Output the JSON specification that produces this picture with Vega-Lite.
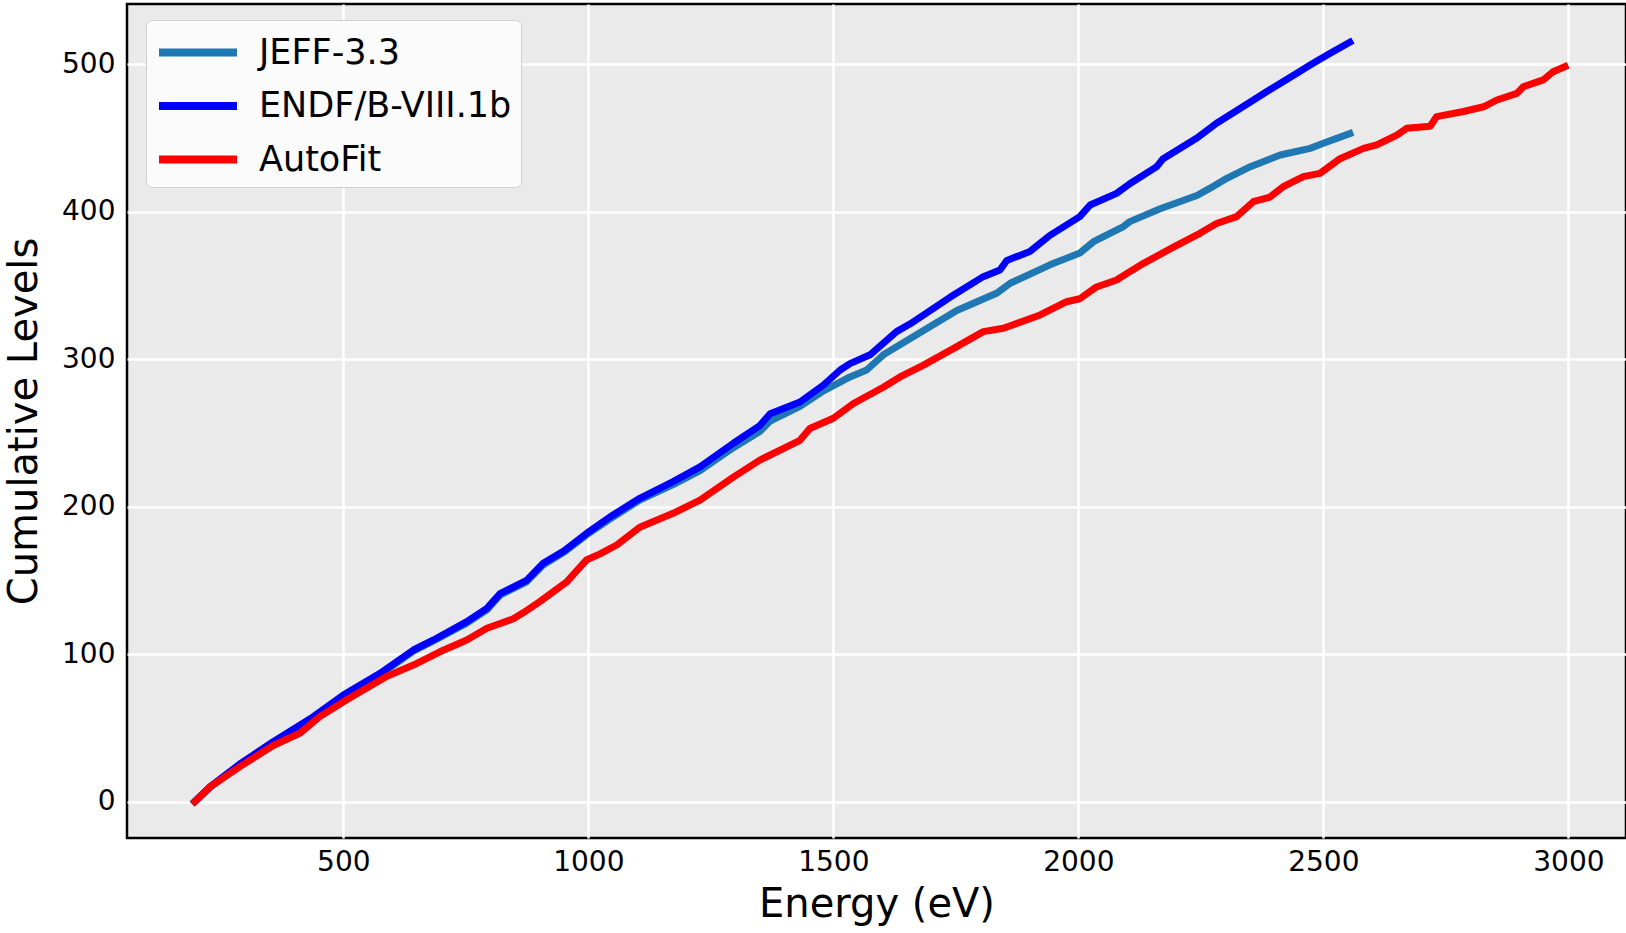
{
  "$schema": "https://vega.github.io/schema/vega-lite/v6.json",
  "width": 1499,
  "height": 834,
  "autosize": {"type": "none"},
  "padding": {"left": 127, "top": 4, "right": 0, "bottom": 95},
  "background": "white",
  "config": {
    "view": {"fill": "#eaeaea", "stroke": "#000000", "strokeWidth": 2.5},
    "font": "DejaVu Sans",
    "axis": {
      "labelFont": "DejaVu Sans",
      "titleFont": "DejaVu Sans",
      "labelColor": "#000000",
      "titleColor": "#000000",
      "labelFontSize": 28,
      "titleFontSize": 40,
      "titleFontWeight": "normal",
      "ticks": false,
      "tickSize": 0,
      "domain": false,
      "grid": true,
      "gridColor": "#ffffff",
      "gridWidth": 2.5
    },
    "legend": {
      "labelFont": "DejaVu Sans",
      "labelFontSize": 35,
      "labelColor": "#000000",
      "labelLimit": 600
    }
  },
  "data": {
    "values": [
      {"series": "JEFF-3.3", "E": 197, "N": 0},
      {"series": "JEFF-3.3", "E": 228, "N": 9.5},
      {"series": "JEFF-3.3", "E": 289, "N": 25},
      {"series": "JEFF-3.3", "E": 357, "N": 40},
      {"series": "JEFF-3.3", "E": 439, "N": 57},
      {"series": "JEFF-3.3", "E": 500, "N": 71.5},
      {"series": "JEFF-3.3", "E": 575, "N": 86},
      {"series": "JEFF-3.3", "E": 643, "N": 102},
      {"series": "JEFF-3.3", "E": 684, "N": 109},
      {"series": "JEFF-3.3", "E": 752, "N": 121},
      {"series": "JEFF-3.3", "E": 793, "N": 130},
      {"series": "JEFF-3.3", "E": 820, "N": 140},
      {"series": "JEFF-3.3", "E": 874, "N": 149},
      {"series": "JEFF-3.3", "E": 908, "N": 160.5},
      {"series": "JEFF-3.3", "E": 950, "N": 169},
      {"series": "JEFF-3.3", "E": 997, "N": 181},
      {"series": "JEFF-3.3", "E": 1044, "N": 191.5},
      {"series": "JEFF-3.3", "E": 1105, "N": 204.5},
      {"series": "JEFF-3.3", "E": 1173, "N": 215},
      {"series": "JEFF-3.3", "E": 1228, "N": 224.5},
      {"series": "JEFF-3.3", "E": 1296, "N": 240},
      {"series": "JEFF-3.3", "E": 1350, "N": 251},
      {"series": "JEFF-3.3", "E": 1371, "N": 258},
      {"series": "JEFF-3.3", "E": 1432, "N": 268},
      {"series": "JEFF-3.3", "E": 1480, "N": 278.5},
      {"series": "JEFF-3.3", "E": 1534, "N": 288},
      {"series": "JEFF-3.3", "E": 1568, "N": 292.7},
      {"series": "JEFF-3.3", "E": 1602, "N": 303},
      {"series": "JEFF-3.3", "E": 1657, "N": 314},
      {"series": "JEFF-3.3", "E": 1752, "N": 333},
      {"series": "JEFF-3.3", "E": 1833, "N": 344.7},
      {"series": "JEFF-3.3", "E": 1861, "N": 351.5},
      {"series": "JEFF-3.3", "E": 1942, "N": 364},
      {"series": "JEFF-3.3", "E": 2003, "N": 372},
      {"series": "JEFF-3.3", "E": 2031, "N": 379.7},
      {"series": "JEFF-3.3", "E": 2092, "N": 390},
      {"series": "JEFF-3.3", "E": 2105, "N": 393.3},
      {"series": "JEFF-3.3", "E": 2167, "N": 402},
      {"series": "JEFF-3.3", "E": 2242, "N": 411},
      {"series": "JEFF-3.3", "E": 2269, "N": 416},
      {"series": "JEFF-3.3", "E": 2303, "N": 422.7},
      {"series": "JEFF-3.3", "E": 2351, "N": 430.6},
      {"series": "JEFF-3.3", "E": 2412, "N": 438.5},
      {"series": "JEFF-3.3", "E": 2473, "N": 443},
      {"series": "JEFF-3.3", "E": 2500, "N": 446.4},
      {"series": "JEFF-3.3", "E": 2554, "N": 453},
      {"series": "ENDF/B-VIII.1b", "E": 197, "N": 0},
      {"series": "ENDF/B-VIII.1b", "E": 228, "N": 10},
      {"series": "ENDF/B-VIII.1b", "E": 289, "N": 25.5},
      {"series": "ENDF/B-VIII.1b", "E": 357, "N": 40.6},
      {"series": "ENDF/B-VIII.1b", "E": 439, "N": 57.6},
      {"series": "ENDF/B-VIII.1b", "E": 500, "N": 72.3},
      {"series": "ENDF/B-VIII.1b", "E": 575, "N": 87},
      {"series": "ENDF/B-VIII.1b", "E": 643, "N": 102.8},
      {"series": "ENDF/B-VIII.1b", "E": 684, "N": 109.6},
      {"series": "ENDF/B-VIII.1b", "E": 752, "N": 122},
      {"series": "ENDF/B-VIII.1b", "E": 793, "N": 131},
      {"series": "ENDF/B-VIII.1b", "E": 820, "N": 141},
      {"series": "ENDF/B-VIII.1b", "E": 874, "N": 150},
      {"series": "ENDF/B-VIII.1b", "E": 908, "N": 161.6},
      {"series": "ENDF/B-VIII.1b", "E": 950, "N": 170},
      {"series": "ENDF/B-VIII.1b", "E": 997, "N": 182},
      {"series": "ENDF/B-VIII.1b", "E": 1044, "N": 193},
      {"series": "ENDF/B-VIII.1b", "E": 1105, "N": 205.7},
      {"series": "ENDF/B-VIII.1b", "E": 1173, "N": 217},
      {"series": "ENDF/B-VIII.1b", "E": 1228, "N": 227},
      {"series": "ENDF/B-VIII.1b", "E": 1296, "N": 243},
      {"series": "ENDF/B-VIII.1b", "E": 1350, "N": 255},
      {"series": "ENDF/B-VIII.1b", "E": 1371, "N": 263},
      {"series": "ENDF/B-VIII.1b", "E": 1432, "N": 271},
      {"series": "ENDF/B-VIII.1b", "E": 1480, "N": 282.5},
      {"series": "ENDF/B-VIII.1b", "E": 1514, "N": 292.7},
      {"series": "ENDF/B-VIII.1b", "E": 1534, "N": 297},
      {"series": "ENDF/B-VIII.1b", "E": 1575, "N": 303},
      {"series": "ENDF/B-VIII.1b", "E": 1629, "N": 318.7},
      {"series": "ENDF/B-VIII.1b", "E": 1657, "N": 324},
      {"series": "ENDF/B-VIII.1b", "E": 1738, "N": 342},
      {"series": "ENDF/B-VIII.1b", "E": 1806, "N": 356},
      {"series": "ENDF/B-VIII.1b", "E": 1840, "N": 360.5},
      {"series": "ENDF/B-VIII.1b", "E": 1854, "N": 367},
      {"series": "ENDF/B-VIII.1b", "E": 1901, "N": 373},
      {"series": "ENDF/B-VIII.1b", "E": 1942, "N": 384},
      {"series": "ENDF/B-VIII.1b", "E": 2003, "N": 396.7},
      {"series": "ENDF/B-VIII.1b", "E": 2024, "N": 404.6},
      {"series": "ENDF/B-VIII.1b", "E": 2078, "N": 412.5},
      {"series": "ENDF/B-VIII.1b", "E": 2105, "N": 419},
      {"series": "ENDF/B-VIII.1b", "E": 2160, "N": 430.6},
      {"series": "ENDF/B-VIII.1b", "E": 2173, "N": 436},
      {"series": "ENDF/B-VIII.1b", "E": 2242, "N": 450},
      {"series": "ENDF/B-VIII.1b", "E": 2282, "N": 460},
      {"series": "ENDF/B-VIII.1b", "E": 2330, "N": 470},
      {"series": "ENDF/B-VIII.1b", "E": 2384, "N": 481.4},
      {"series": "ENDF/B-VIII.1b", "E": 2446, "N": 494},
      {"series": "ENDF/B-VIII.1b", "E": 2473, "N": 499.5},
      {"series": "ENDF/B-VIII.1b", "E": 2514, "N": 507.5},
      {"series": "ENDF/B-VIII.1b", "E": 2554, "N": 515},
      {"series": "AutoFit", "E": 197, "N": 0},
      {"series": "AutoFit", "E": 228, "N": 10},
      {"series": "AutoFit", "E": 289, "N": 23.7},
      {"series": "AutoFit", "E": 357, "N": 38},
      {"series": "AutoFit", "E": 412, "N": 46.5},
      {"series": "AutoFit", "E": 452, "N": 57.6},
      {"series": "AutoFit", "E": 507, "N": 69},
      {"series": "AutoFit", "E": 548, "N": 77},
      {"series": "AutoFit", "E": 589, "N": 85},
      {"series": "AutoFit", "E": 643, "N": 92.6},
      {"series": "AutoFit", "E": 697, "N": 101.6},
      {"series": "AutoFit", "E": 752, "N": 109.6},
      {"series": "AutoFit", "E": 793, "N": 117.5},
      {"series": "AutoFit", "E": 847, "N": 124},
      {"series": "AutoFit", "E": 867, "N": 128},
      {"series": "AutoFit", "E": 901, "N": 135.6},
      {"series": "AutoFit", "E": 956, "N": 149},
      {"series": "AutoFit", "E": 983, "N": 159},
      {"series": "AutoFit", "E": 997, "N": 164},
      {"series": "AutoFit", "E": 1024, "N": 168},
      {"series": "AutoFit", "E": 1058, "N": 174},
      {"series": "AutoFit", "E": 1105, "N": 186},
      {"series": "AutoFit", "E": 1173, "N": 195.5},
      {"series": "AutoFit", "E": 1228, "N": 204.5},
      {"series": "AutoFit", "E": 1296, "N": 220},
      {"series": "AutoFit", "E": 1350, "N": 231.6},
      {"series": "AutoFit", "E": 1432, "N": 245},
      {"series": "AutoFit", "E": 1452, "N": 253},
      {"series": "AutoFit", "E": 1500, "N": 260},
      {"series": "AutoFit", "E": 1541, "N": 270},
      {"series": "AutoFit", "E": 1602, "N": 281},
      {"series": "AutoFit", "E": 1636, "N": 288},
      {"series": "AutoFit", "E": 1684, "N": 296},
      {"series": "AutoFit", "E": 1752, "N": 308.5},
      {"series": "AutoFit", "E": 1806, "N": 318.7},
      {"series": "AutoFit", "E": 1847, "N": 321},
      {"series": "AutoFit", "E": 1922, "N": 330},
      {"series": "AutoFit", "E": 1976, "N": 339},
      {"series": "AutoFit", "E": 2003, "N": 341},
      {"series": "AutoFit", "E": 2037, "N": 349},
      {"series": "AutoFit", "E": 2078, "N": 353.7},
      {"series": "AutoFit", "E": 2105, "N": 359.4},
      {"series": "AutoFit", "E": 2133, "N": 365},
      {"series": "AutoFit", "E": 2194, "N": 376},
      {"series": "AutoFit", "E": 2248, "N": 385.4},
      {"series": "AutoFit", "E": 2282, "N": 392},
      {"series": "AutoFit", "E": 2323, "N": 396.7},
      {"series": "AutoFit", "E": 2357, "N": 406.8},
      {"series": "AutoFit", "E": 2391, "N": 410},
      {"series": "AutoFit", "E": 2418, "N": 417},
      {"series": "AutoFit", "E": 2459, "N": 423.8},
      {"series": "AutoFit", "E": 2493, "N": 426},
      {"series": "AutoFit", "E": 2534, "N": 436},
      {"series": "AutoFit", "E": 2582, "N": 443},
      {"series": "AutoFit", "E": 2609, "N": 445.3},
      {"series": "AutoFit", "E": 2650, "N": 452},
      {"series": "AutoFit", "E": 2670, "N": 456.6},
      {"series": "AutoFit", "E": 2718, "N": 458},
      {"series": "AutoFit", "E": 2731, "N": 464.5},
      {"series": "AutoFit", "E": 2786, "N": 468},
      {"series": "AutoFit", "E": 2827, "N": 471.2},
      {"series": "AutoFit", "E": 2854, "N": 475.8},
      {"series": "AutoFit", "E": 2895, "N": 480.3},
      {"series": "AutoFit", "E": 2908, "N": 484.8},
      {"series": "AutoFit", "E": 2949, "N": 489.4},
      {"series": "AutoFit", "E": 2969, "N": 495},
      {"series": "AutoFit", "E": 2993, "N": 498.4}
    ]
  },
  "encoding": {
    "x": {
      "field": "E",
      "type": "quantitative",
      "title": "Energy (eV)",
      "scale": {"domain": [58.6, 3117.6], "nice": false, "zero": false},
      "axis": {"values": [500, 1000, 1500, 2000, 2500, 3000], "labelPadding": 10, "titlePadding": 8, "format": "d"}
    },
    "y": {
      "field": "N",
      "type": "quantitative",
      "title": "Cumulative Levels",
      "scale": {"domain": [-24.7, 540.9], "nice": false, "zero": false},
      "axis": {"values": [0, 100, 200, 300, 400, 500], "labelPadding": 12, "titlePadding": 17, "format": "d"}
    },
    "color": {
      "field": "series",
      "type": "nominal",
      "sort": ["JEFF-3.3", "ENDF/B-VIII.1b", "AutoFit"],
      "scale": {"domain": ["JEFF-3.3", "ENDF/B-VIII.1b", "AutoFit"], "range": ["#1f77b4", "#0000ff", "#ff0000"]},
      "legend": {
        "title": null,
        "orient": "none",
        "legendX": 19,
        "legendY": 16,
        "symbolType": "M-1,0H3",
        "symbolSize": 1521,
        "symbolStrokeWidth": 8,
        "labelOffset": 57,
        "rowPadding": 11.5,
        "padding": 9,
        "fillColor": "#fbfbfb",
        "strokeColor": "#d0d0d0",
        "cornerRadius": 6
      }
    }
  },
  "layer": [
    {"transform": [{"filter": "datum.series === 'JEFF-3.3'"}], "mark": {"type": "line", "strokeWidth": 7, "strokeCap": "square", "strokeJoin": "round"}},
    {"transform": [{"filter": "datum.series === 'ENDF/B-VIII.1b'"}], "mark": {"type": "line", "strokeWidth": 7, "strokeCap": "square", "strokeJoin": "round"}},
    {"transform": [{"filter": "datum.series === 'AutoFit'"}], "mark": {"type": "line", "strokeWidth": 7, "strokeCap": "square", "strokeJoin": "round"}}
  ]
}
